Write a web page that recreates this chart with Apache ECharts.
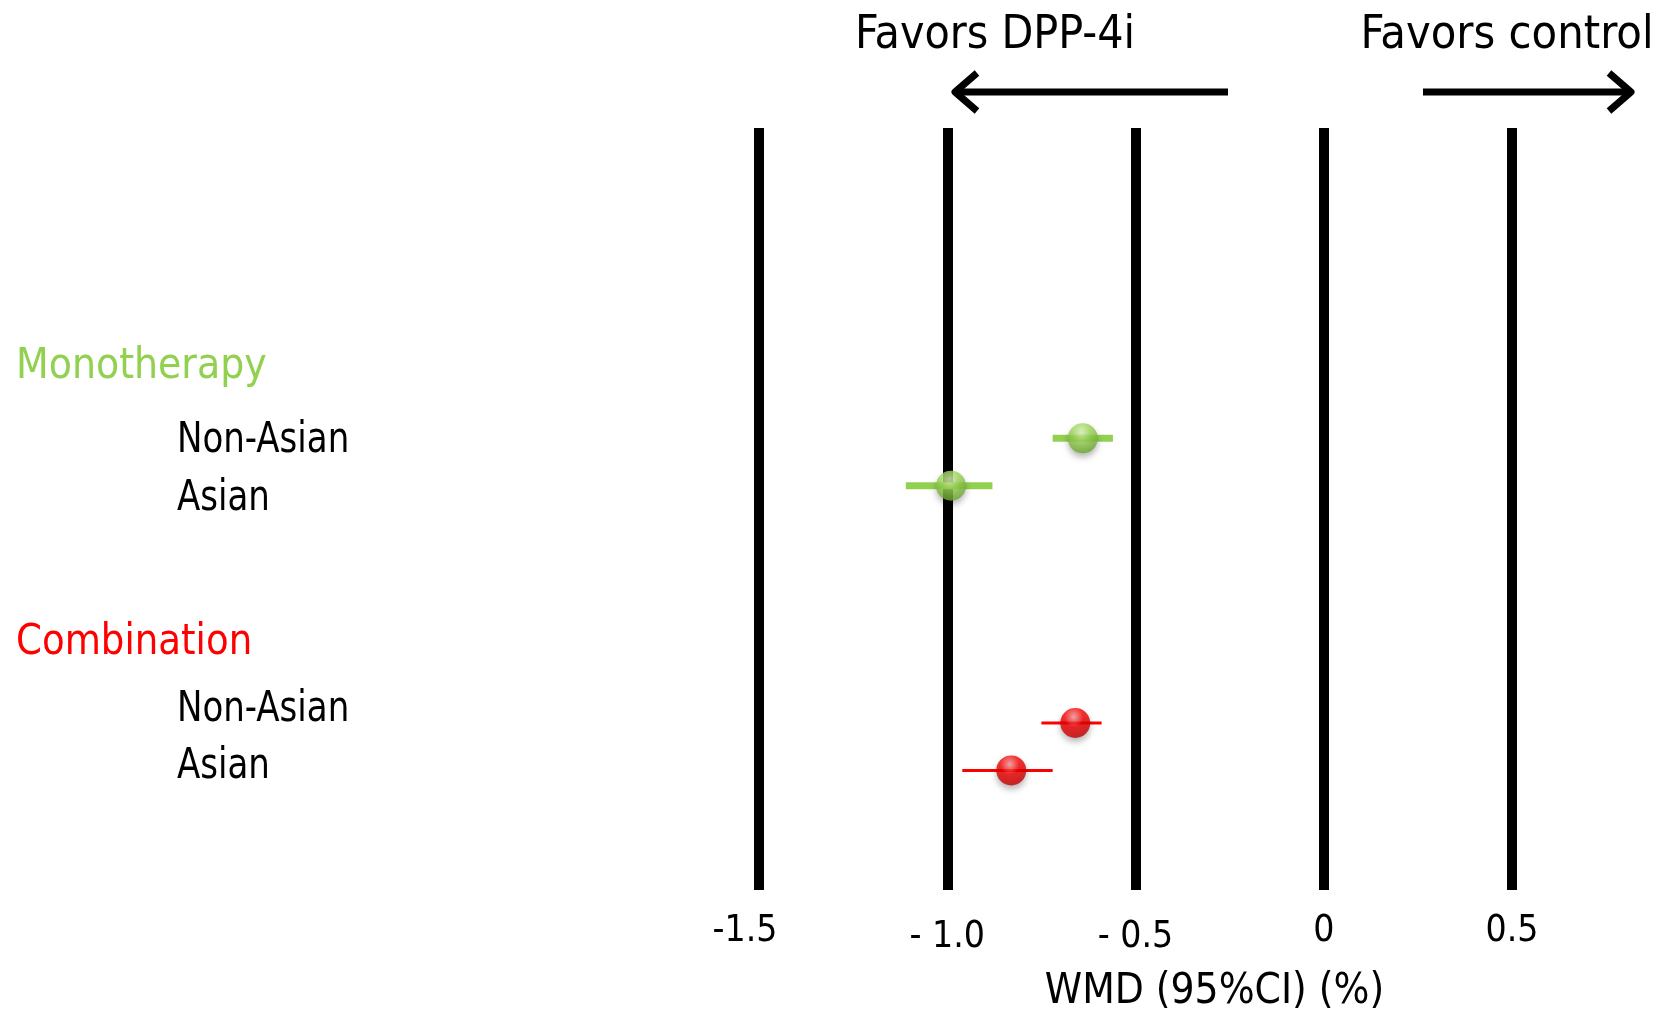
<!DOCTYPE html>
<html>
<head>
<meta charset="utf-8">
<title>WMD forest plot</title>
<script src="https://cdn.jsdelivr.net/npm/echarts@6/dist/echarts.min.js"></script>
<style>
  html, body { margin: 0; padding: 0; background: #fff; }
  #chart { width: 1657px; height: 1010px; }
</style>
</head>
<body>
<div id="chart"></div>
<script>
// Subgroup estimates: weighted mean difference in HbA1c (%) with 95% CI
const groups = ['Monotherapy', 'Combination'];
const subgroups = ['Non-Asian', 'Asian'];
const wmd    = [[-0.64, -0.99], [-0.66, -0.83]];
const ciLow  = [[-0.72, -1.11], [-0.75, -0.96]];
const ciHigh = [[-0.56, -0.88], [-0.59, -0.72]];
const xTicks = [-1.5, -1.0, -0.5, 0, 0.5];
const xTickLabels = ['-1.5', '- 1.0', '- 0.5', '0', '0.5'];
const axisTitle = 'WMD (95%CI) (%)';
const leftNote = 'Favors DPP-4i';
const rightNote = 'Favors control';

const FONT = "'DejaVu Sans Condensed', 'DejaVu Sans', sans-serif";
const groupColors = ['#92D050', '#FF0000'];
const sphereStops = [
  [{ offset: 0, color: '#e2fab8' }, { offset: 0.4, color: '#9ad656' }, { offset: 1, color: '#5f9a25' }],
  [{ offset: 0, color: '#ff9a9a' }, { offset: 0.4, color: '#f50000' }, { offset: 1, color: '#b50000' }]
];
const ciWidths = [7, 3];

// each group occupies a block of rows on the vertical value axis
const GROUP_STEP = 6;
const rowOf = (g, s) => g * GROUP_STEP + s + 1;

const series = [];
groups.forEach((name, g) => {
  const ciData = subgroups.map((sub, s) => [ciLow[g][s], ciHigh[g][s], rowOf(g, s)]);
  const ptData = subgroups.map((sub, s) => [wmd[g][s], rowOf(g, s)]);
  series.push({
    type: 'custom',
    name: name + ' CI',
    z: 2,
    encode: { x: [0, 1], y: 2 },
    data: ciData,
    renderItem: function (params, api) {
      const a = api.coord([api.value(0), api.value(2)]);
      const b = api.coord([api.value(1), api.value(2)]);
      return {
        type: 'line',
        shape: { x1: a[0], y1: a[1], x2: b[0], y2: b[1] },
        style: { stroke: groupColors[g], lineWidth: ciWidths[g] }
      };
    }
  });
  series.push({
    type: 'scatter',
    name: name,
    z: 3,
    symbol: 'circle',
    symbolSize: 30,
    data: ptData,
    itemStyle: {
      color: { type: 'radial', x: 0.45, y: 0.3, r: 0.8, colorStops: sphereStops[g] },
      shadowBlur: 6,
      shadowOffsetY: 4,
      shadowColor: 'rgba(0,0,0,0.35)'
    }
  });
});

// text helper: anchored at (x, y), vertically centred, optionally narrowed
function label(text, x, y, size, color, align, sx) {
  return {
    type: 'text', x: x, y: y, scaleX: sx || 1,
    style: { text: text, x: 0, y: 0, fill: color, font: size + 'px ' + FONT,
             align: align || 'left', verticalAlign: 'middle' }
  };
}

// row labels on the left
const labelGraphics = [];
const headerY = [367, 643];
const headerScale = [0.98, 0.96];
const rowY = [[441, 499], [710, 767]];
groups.forEach((name, g) => {
  labelGraphics.push(label(name, 16, headerY[g], 43, groupColors[g], 'left', headerScale[g]));
  subgroups.forEach((sub, s) => {
    labelGraphics.push(label(sub, 177, rowY[g][s], 43, '#000', 'left', 0.88));
  });
});

const arrowStyle = { stroke: '#000', lineWidth: 7, fill: null, lineJoin: 'round', lineCap: 'butt' };

const chart = echarts.init(document.getElementById('chart'), null, { renderer: 'canvas' });
chart.setOption({
  animation: false,
  backgroundColor: '#fff',
  grid: { left: 759, right: 145, top: 128, bottom: 120, containLabel: false, outerBoundsMode: 'none' },
  xAxis: {
    type: 'value',
    min: -1.5,
    max: 0.5,
    interval: 0.5,
    axisLine: { show: false },
    axisTick: { show: false },
    splitLine: { show: true, lineStyle: { color: '#000', width: 10 } },
    axisLabel: {
      margin: 23,
      color: '#000',
      fontFamily: FONT,
      fontSize: 37,
      formatter: function (v) {
        const i = xTicks.findIndex(t => Math.abs(t - v) < 1e-9);
        const txt = i >= 0 ? xTickLabels[i] : '';
        if (i === 0) return '{first|' + txt + '}';
        return txt.indexOf(' ') > 0 ? '{lo|' + txt + '}' : txt;
      },
      rich: {
        lo: { fontFamily: FONT, fontSize: 37, color: '#000', padding: [6, 0, 0, 0] },
        first: { fontFamily: FONT, fontSize: 37, color: '#000', padding: [0, 28, 0, 0] }
      }
    },
    name: axisTitle,
    nameLocation: 'middle',
    nameGap: 81,
    nameTextStyle: { fontFamily: FONT, fontSize: 42, color: '#000', padding: [0, 0, 0, 158] }
  },
  yAxis: {
    type: 'value',
    inverse: true,
    min: -5.54,
    max: 10.52,
    show: false
  },
  series: series,
  graphic: labelGraphics.concat([
    label(leftNote, 995, 36, 46, '#000', 'center', 1),
    label(rightNote, 1507, 36, 47, '#000', 'center', 0.99),
    { type: 'polyline', shape: { points: [[1228, 92], [954, 92]] }, style: arrowStyle },
    { type: 'polyline', shape: { points: [[977, 73], [955, 92], [977, 111]] }, style: arrowStyle },
    { type: 'polyline', shape: { points: [[1423, 92], [1630, 92]] }, style: arrowStyle },
    { type: 'polyline', shape: { points: [[1609, 73], [1631, 92], [1609, 111]] }, style: arrowStyle }
  ])
});
</script>
</body>
</html>
